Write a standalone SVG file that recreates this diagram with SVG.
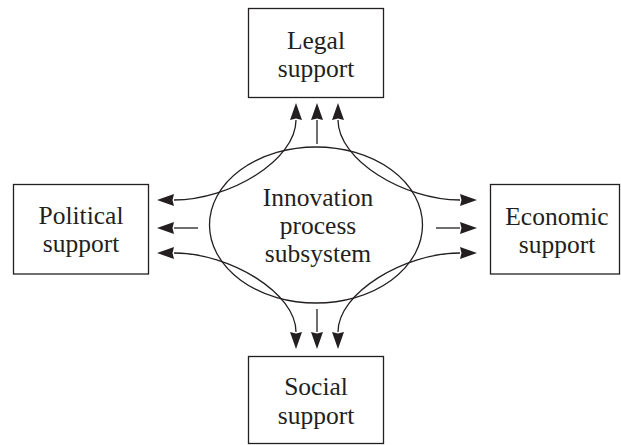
<svg xmlns="http://www.w3.org/2000/svg" width="621" height="445" viewBox="0 0 621 445">
  <style>
    .box { fill: #ffffff; stroke: #231f20; stroke-width: 1.3; }
    .oval { fill: none; stroke: #231f20; stroke-width: 1.3; }
    .lbl { font-family: "Liberation Serif", "Times New Roman", serif; font-size: 25.5px; fill: #231f20; text-anchor: middle; }
    .conn path { fill: none; stroke: #231f20; stroke-width: 1.3; marker-end: url(#head); }
    .conn path.both { marker-start: url(#head); }
  </style>
  <defs>
    <marker id="head" markerUnits="userSpaceOnUse" markerWidth="18" markerHeight="12" refX="0" refY="6" orient="auto-start-reverse" overflow="visible">
      <path d="M0,0 L17,6 L0,12 L1.5,6 z" fill="#231f20"/>
    </marker>
  </defs>

  <rect width="621" height="445" fill="#ffffff"/>

  <!-- central subsystem -->
  <g id="innovation">
    <ellipse class="oval" cx="316" cy="225" rx="106.5" ry="78"/>
    <text class="lbl" x="318" y="206">Innovation</text>
    <text class="lbl" x="318" y="234">process</text>
    <text class="lbl" x="318" y="262">subsystem</text>
  </g>

  <!-- connectors -->
  <g id="connectors" class="conn">
    <!-- straight arrows out of the subsystem -->
    <path d="M317,144 L317,120"/>
    <path d="M198,228 L174,228"/>
    <path d="M436,228 L460,228"/>
    <path d="M317,309 L317,332"/>
    <!-- double-headed links between neighbouring supports -->
    <path class="both" d="M174,200 C230,200 296,160 296,120"/>
    <path class="both" d="M460,200 C404,200 338,160 338,120"/>
    <path class="both" d="M174,253 C230,253 296,293 296,332"/>
    <path class="both" d="M460,253 C404,253 338,293 338,332"/>
  </g>

  <g id="legal">
    <rect class="box" x="248.5" y="8.5" width="135" height="89"/>
    <text class="lbl" x="316" y="49">Legal</text>
    <text class="lbl" x="316" y="77">support</text>
  </g>

  <g id="political">
    <rect class="box" x="13.5" y="184.5" width="135" height="89.5"/>
    <text class="lbl" x="81" y="224">Political</text>
    <text class="lbl" x="81" y="252">support</text>
  </g>

  <g id="economic">
    <rect class="box" x="490.5" y="184.5" width="129" height="89.5"/>
    <text class="lbl" x="557" y="225">Economic</text>
    <text class="lbl" x="557" y="253">support</text>
  </g>

  <g id="social">
    <rect class="box" x="248.5" y="356.5" width="135" height="87"/>
    <text class="lbl" x="316" y="395">Social</text>
    <text class="lbl" x="316" y="424">support</text>
  </g>
</svg>
